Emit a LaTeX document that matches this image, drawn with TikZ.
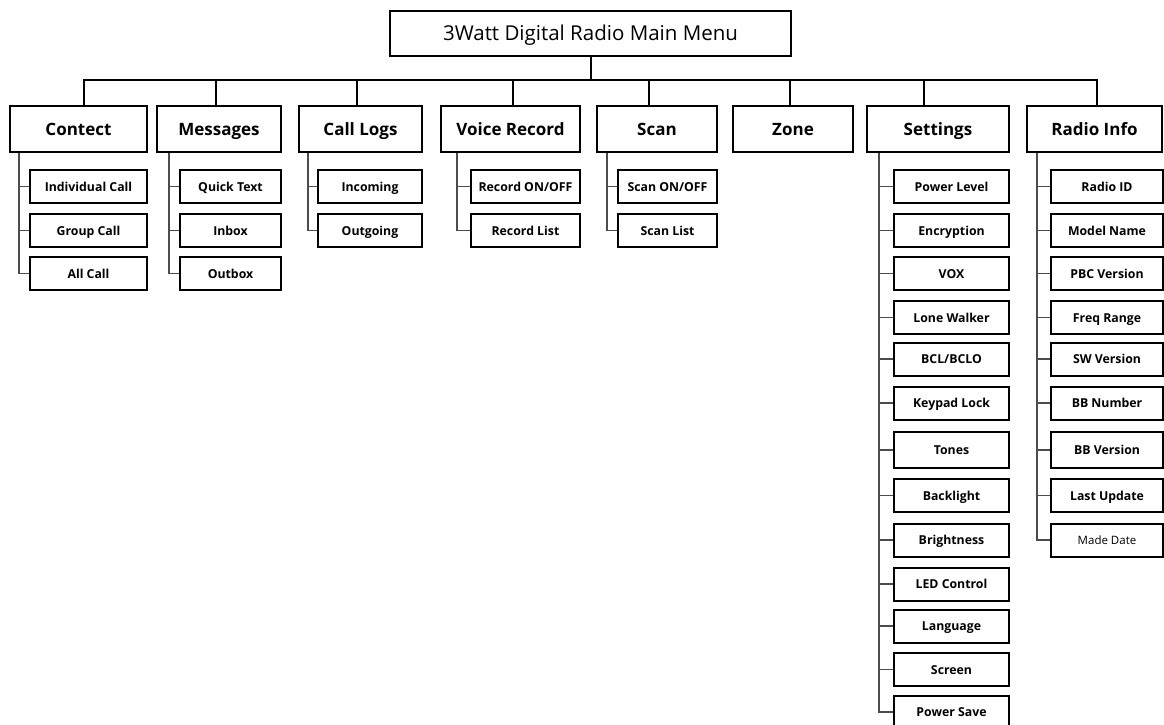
\documentclass[tikz,border=0pt]{standalone}
\usepackage{fontspec}
\setmainfont{Open Sans}
\usetikzlibrary{calc}
\tikzset{root/.style={
    draw,
    line width=2pt,
    minimum width=401pt,
    minimum height=45pt,
    inner sep=0pt,
    text height=15pt,
    text depth=1pt,
    font=\fontsize{20.5}{24}\selectfont},
  menu/.style={
    draw,
    line width=2.2pt,
    minimum height=46pt,
    inner sep=0pt,
    text height=13pt,
    text depth=1pt,
    font=\fontsize{17}{20}\selectfont\bfseries},
  item/.style={
    draw,
    line width=2pt,
    minimum height=33pt,
    inner sep=0pt,
    text height=10pt,
    text depth=1pt,
    font=\fontsize{12.3}{15}\selectfont\bfseries},
  bus/.style={line width=2pt},
  twig/.style={line width=1.3pt, black!70}}

\begin{document}
\begin{tikzpicture}[x=1pt, y=-1pt]
  \path[use as bounding box, clip] (0,0) rectangle (1164,724);

\coordinate (bus) at (590.5,80);

\node[root] (main) at (590.5,33) {3Watt Digital Radio Main Menu};

% first level
\node[menu, minimum width=137pt] (contect) at (78.5,129) {Contect};
\node[menu, minimum width=124pt] (messages) at (219,129) {Messages};
\node[menu, minimum width=123pt] (calllogs) at (360.5,129) {Call Logs};
\node[menu, minimum width=139pt] (voicerec) at (510.5,129) {Voice Record};
\node[menu, minimum width=120pt] (scan) at (657,129) {Scan};
\node[menu, minimum width=120pt] (zone) at (793,129) {Zone};
\node[menu, minimum width=142pt] (settings) at (938,129) {Settings};
\node[menu, minimum width=135pt] (radioinfo) at (1094.5,129) {Radio Info};

\draw[bus] (main.south) -- (bus);
\draw[bus] ([xshift=5.5pt]contect.north) |- (bus);
\draw[bus] ([xshift=-3pt]messages.north) |- (bus);
\draw[bus] ([xshift=-3.5pt]calllogs.north) |- (bus);
\draw[bus] ([xshift=2.5pt]voicerec.north) |- (bus);
\draw[bus] ([xshift=-8pt]scan.north) |- (bus);
\draw[bus] ([xshift=-3pt]zone.north) |- (bus);
\draw[bus] ([xshift=-14pt]settings.north) |- (bus);
\draw[bus] ([xshift=2.5pt]radioinfo.north) |- (bus);

% Contect
\node[item, minimum width=117pt] (indcall) at (88.5,186.5) {Individual Call};
\node[item, minimum width=117pt] (grpcall) at (88.5,230.5) {Group Call};
\node[item, minimum width=117pt] (allcall) at (88.5,273.5) {All Call};

% Messages
\node[item, minimum width=101pt] (quick) at (230.5,186.5) {Quick Text};
\node[item, minimum width=101pt] (inbox) at (230.5,230.5) {Inbox};
\node[item, minimum width=101pt] (outbox) at (230.5,273.5) {Outbox};

% Call Logs
\node[item, minimum width=104pt] (incoming) at (370,186.5) {Incoming};
\node[item, minimum width=104pt] (outgoing) at (370,230.5) {Outgoing};

% Voice Record
\node[item, minimum width=109pt] (reconoff) at (525.5,186.5) {Record ON/OFF};
\node[item, minimum width=109pt] (reclist) at (525.5,230.5) {Record List};

% Scan
\node[item, minimum width=99pt] (scanonoff) at (667.5,186.5) {Scan ON/OFF};
\node[item, minimum width=99pt] (scanlist) at (667.5,230.5) {Scan List};

% Settings
\node[item, minimum width=115pt] (power) at (951.5,186.5) {Power Level};
\node[item, minimum width=115pt] (encrypt) at (951.5,230.5) {Encryption};
\node[item, minimum width=115pt] (vox) at (951.5,273.5) {VOX};
\node[item, minimum width=115pt] (lone) at (951.5,317.5) {Lone Walker};
\node[item, minimum width=115pt] (bcl) at (951.5,359) {BCL/BCLO};
\node[item, minimum width=115pt] (keypad) at (951.5,403) {Keypad Lock};
\node[item, minimum width=115pt, minimum height=36pt] (tones) at (951.5,450) {Tones};
\node[item, minimum width=115pt] (backlight) at (951.5,495.5) {Backlight};
\node[item, minimum width=115pt] (bright) at (951.5,540) {Brightness};
\node[item, minimum width=115pt] (led) at (951.5,584) {LED Control};
\node[item, minimum width=115pt] (lang) at (951.5,626) {Language};
\node[item, minimum width=115pt] (screen) at (951.5,669.5) {Screen};
\node[item, minimum width=115pt] (powersave) at (951.5,712) {Power Save};

% Radio Info
\node[item, minimum width=112pt] (radioid) at (1107,186.5) {Radio ID};
\node[item, minimum width=112pt] (model) at (1107,230.5) {Model Name};
\node[item, minimum width=112pt] (pbc) at (1107,273.5) {PBC Version};
\node[item, minimum width=112pt] (freq) at (1107,317.5) {Freq Range};
\node[item, minimum width=112pt] (swver) at (1107,359) {SW Version};
\node[item, minimum width=112pt] (bbnum) at (1107,403) {BB Number};
\node[item, minimum width=112pt, minimum height=36pt] (bbver) at (1107,450) {BB Version};
\node[item, minimum width=112pt] (lastupd) at (1107,495.5) {Last Update};
\node[item, minimum width=112pt, font=\fontsize{11.5}{14}\selectfont] (made) at (1107,540) {Made Date};

% branches
\foreach \c in {indcall, grpcall, allcall}
  \draw[twig] ([xshift=10pt]contect.south west) |- (\c.west);
\foreach \c in {quick, inbox, outbox}
  \draw[twig] ([xshift=13pt]messages.south west) |- (\c.west);
\foreach \c in {incoming, outgoing}
  \draw[twig] ([xshift=10pt]calllogs.south west) |- (\c.west);
\foreach \c in {reconoff, reclist}
  \draw[twig] ([xshift=17pt]voicerec.south west) |- (\c.west);
\foreach \c in {scanonoff, scanlist}
  \draw[twig] ([xshift=11pt]scan.south west) |- (\c.west);
\foreach \c in {power, encrypt, vox, lone, bcl, keypad, tones, backlight, bright, led, lang, screen, powersave}
  \draw[twig] ([xshift=13pt]settings.south west) |- (\c.west);
\foreach \c in {radioid, model, pbc, freq, swver, bbnum, bbver, lastupd, made}
  \draw[twig] ([xshift=11pt]radioinfo.south west) |- (\c.west);

\end{tikzpicture}
\end{document}
